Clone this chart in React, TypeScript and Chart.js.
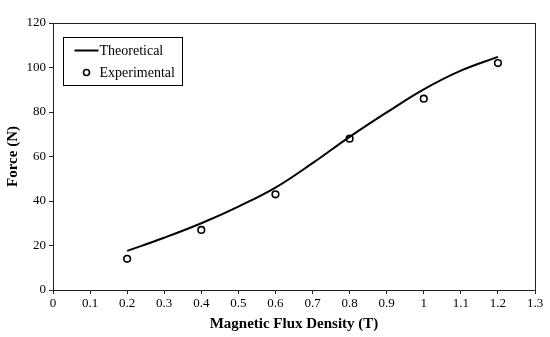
import React, { useEffect, useRef } from "react";
import { Chart, registerables } from "chart.js";

Chart.register(...registerables);

const theoryX = [0.2, 0.3, 0.4, 0.5, 0.6, 0.7, 0.8, 0.9, 1.0, 1.1, 1.2];
const theoryY = [17.6, 23.5, 30, 37.5, 46, 57, 68.8, 79.8, 90.2, 98.6, 104.8];
const expX = [0.2, 0.4, 0.6, 0.8, 1.0, 1.2];
const expY = [14, 27, 43, 68, 86, 102];
const seriesNames = ["Theoretical", "Experimental"];
const xTitle = "Magnetic Flux Density (T)";
const yTitle = "Force (N)";

const FONT = "'Liberation Serif', 'Times New Roman', serif";

const framePlugin = {
  id: "frame",
  afterDraw(chart: any) {
    const { ctx, chartArea: a } = chart;
    ctx.save();
    ctx.strokeStyle = "#222";
    ctx.lineWidth = 1;
    ctx.strokeRect(a.left + 0.5, a.top + 0.5, a.right - a.left, a.bottom - a.top);
    // legend
    const lx = a.left + 10.5, ly = a.top + 14.5, lw = 119, lh = 48;
    ctx.fillStyle = "#fff";
    ctx.fillRect(lx, ly, lw, lh);
    ctx.strokeStyle = "#000";
    ctx.strokeRect(lx, ly, lw, lh);
    ctx.font = `14px ${FONT}`;
    ctx.fillStyle = "#000";
    ctx.textBaseline = "middle";
    const y1 = ly + 13, y2 = ly + 35;
    ctx.beginPath();
    ctx.lineWidth = 2;
    ctx.moveTo(lx + 11, y1);
    ctx.lineTo(lx + 35, y1);
    ctx.stroke();
    ctx.fillText(chart.data.datasets[0].label, lx + 36, y1 + 1);
    ctx.beginPath();
    ctx.lineWidth = 1.6;
    ctx.arc(lx + 23, y2, 3, 0, Math.PI * 2);
    ctx.stroke();
    ctx.fillText(chart.data.datasets[1].label, lx + 36, y2 + 1);
    ctx.restore();
  },
};

export default function App() {
  const ref = useRef<HTMLCanvasElement>(null);
  useEffect(() => {
    const chart = new Chart(ref.current!, {
      type: "scatter",
      data: {
        datasets: [
          {
            label: seriesNames[0],
            data: theoryX.map((x, i) => ({ x, y: theoryY[i] })),
            showLine: true,
            borderColor: "#000",
            borderWidth: 2,
            pointRadius: 0,
            tension: 0.4,
          },
          {
            label: seriesNames[1],
            data: expX.map((x, i) => ({ x, y: expY[i] })),
            showLine: false,
            borderColor: "#000",
            backgroundColor: "#fff",
            pointRadius: 3.3,
            pointBorderWidth: 1.6,
          },
        ],
      },
      options: {
        animation: false,
        responsive: false,
        layout: { padding: { top: 23, right: 15, left: 0, bottom: 0 } },
        plugins: { legend: { display: false }, tooltip: { enabled: false } },
        scales: {
          x: {
            type: "linear",
            min: 0,
            max: 1.3,
            afterFit: (s: any) => { s.height = 47; },
            ticks: {
              stepSize: 0.1,
              color: "#000",
              font: { family: FONT, size: 13 },
              padding: 2,
              maxRotation: 0,
              callback: (v: any) => String(Math.round(v * 10) / 10),
            },
            grid: { display: true, drawOnChartArea: false, drawTicks: true, tickLength: 4, color: "#222" },
            border: { display: true, color: "#222" },
            title: { display: true, text: xTitle, color: "#000", font: { family: FONT, size: 15, weight: "bold" }, padding: { top: 3 } },
          },
          y: {
            min: 0,
            max: 120,
            afterFit: (s: any) => { s.width = 53; },
            ticks: { stepSize: 20, color: "#000", font: { family: FONT, size: 13 }, padding: 3 },
            grid: { display: true, drawOnChartArea: false, drawTicks: true, tickLength: 4, color: "#222" },
            border: { display: true, color: "#222" },
            title: { display: true, text: yTitle, color: "#000", font: { family: FONT, size: 15, weight: "bold" }, padding: { bottom: 0 } },
          },
        },
      },
      plugins: [framePlugin],
    } as any);
    return () => chart.destroy();
  }, []);
  return (
    <div style={{ position: "fixed", left: 0, top: 0, width: 550, height: 337, background: "#fff" }}>
      <canvas ref={ref} width={550} height={337} style={{ width: 550, height: 337 }} />
    </div>
  );
}
